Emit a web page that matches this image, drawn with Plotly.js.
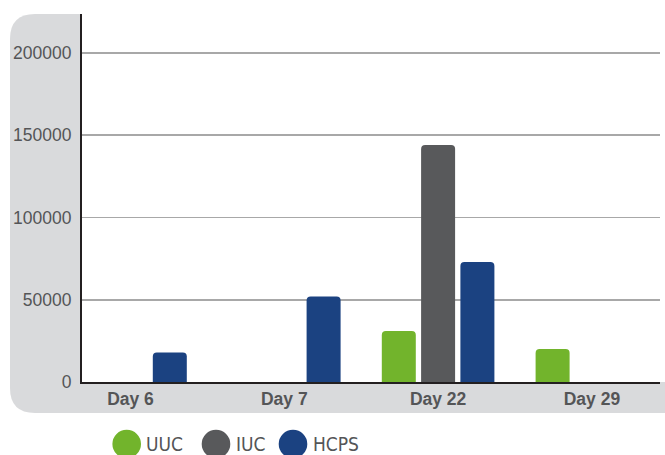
<!DOCTYPE html>
<html>
<head>
<meta charset="utf-8">
<script src="https://cdn.plot.ly/plotly-3.0.1.min.js"></script>
<style>
  html, body { margin: 0; padding: 0; background: #ffffff; }
  #chart { width: 665px; height: 455px; }
</style>
</head>
<body>
<div id="chart"></div>
<script>
// ---- data ----
const categories = ['Day 6', 'Day 7', 'Day 22', 'Day 29'];
const seriesNames = ['UUC', 'IUC', 'HCPS'];
const uucValues  = [null, null, 31000, 20000];
const iucValues  = [null, null, 144000, null];
const hcpsValues = [18000, 52000, 73000, null];
const yTickValues = [0, 50000, 100000, 150000, 200000];
const yTickLabels = ['0', '50000', '100000', '150000', '200000'];

// ---- styling ----
const seriesColors = ['#72b42c', '#58595b', '#1b4281'];
const textColor = '#545557';
const W = 665, H = 455;
const M = { l: 82, r: 5, t: 14, b: 73 };
const PW = W - M.l - M.r, PH = H - M.t - M.b;
const px2x = p => (p - M.l) / PW;
const py2y = p => (H - M.b - p) / PH;

const seriesValues = [uucValues, iucValues, hcpsValues];
const traces = seriesNames.map((name, i) => ({
  type: 'bar',
  name: name,
  x: categories,
  y: seriesValues[i],
  marker: { color: seriesColors[i], cornerradius: 4, line: { width: 0 } },
  showlegend: false,
  hoverinfo: 'x+y+name'
}));

// background panel (rounded on the left) and white plot area
const x0 = px2x(10), x1 = px2x(672), y0 = py2y(413), y1 = py2y(14);
const rx = 25 / PW, ry = 25 / PH;
const panelPath = `M ${x0 + rx},${y1} L ${x1},${y1} L ${x1},${y0} L ${x0 + rx},${y0} ` +
  `Q ${x0},${y0} ${x0},${y0 + ry} L ${x0},${y1 - ry} Q ${x0},${y1} ${x0 + rx},${y1} Z`;

const shapes = [
  { type: 'path', xref: 'paper', yref: 'paper', path: panelPath,
    fillcolor: '#d9dadc', line: { width: 0 }, layer: 'below' },
  { type: 'rect', xref: 'paper', yref: 'paper', x0: 0, x1: px2x(672), y0: 0, y1: 1.05,
    fillcolor: '#ffffff', line: { width: 0 }, layer: 'below' }
];

// custom legend (large circles + narrow text)
const legendCircleX = [126.7, 216, 293];
const legendTextX = [143.5, 233.5, 310.5];
const legendY = 444;
const legendR = 14.3;
const annotations = [];
seriesNames.forEach((name, i) => {
  shapes.push({
    type: 'circle', xref: 'paper', yref: 'paper',
    xsizemode: 'pixel', ysizemode: 'pixel',
    xanchor: px2x(legendCircleX[i]), yanchor: py2y(legendY),
    x0: -legendR, x1: legendR, y0: -legendR, y1: legendR,
    fillcolor: seriesColors[i], line: { width: 0 }
  });
  annotations.push({
    xref: 'paper', yref: 'paper', x: px2x(legendTextX[i]), y: py2y(legendY),
    xanchor: 'left', yanchor: 'middle', showarrow: false, text: name,
    font: { family: '"Liberation Sans Narrow", "Arial Narrow", "DejaVu Sans Condensed", sans-serif', size: 19, color: textColor }
  });
});

const catWidthPx = 153.8;
const firstCenterPx = 130.5;
const xr0 = -(firstCenterPx - M.l) / catWidthPx;
const xr1 = xr0 + PW / catWidthPx;

const layout = {
  width: W, height: H,
  margin: M,
  paper_bgcolor: '#ffffff',
  plot_bgcolor: '#ffffff',
  showlegend: false,
  barmode: 'group',
  bargap: 0.2334,
  bargroupgap: 0.135,
  font: { family: '"Liberation Sans", Arial, sans-serif', color: textColor },
  xaxis: {
    type: 'category',
    range: [xr0, xr1],
    showgrid: false,
    zeroline: false,
    showline: true, linecolor: '#231f20', linewidth: 2,
    ticks: '',
    tickfont: { family: '"Liberation Sans", Arial, sans-serif', size: 17.5, color: textColor, weight: 'bold' },
    fixedrange: true
  },
  yaxis: {
    range: [0, 223700],
    tickvals: yTickValues,
    ticktext: yTickLabels,
    showgrid: true, gridcolor: '#a8a8a8', gridwidth: 1.5,
    zeroline: false,
    showline: true, linecolor: '#231f20', linewidth: 2,
    ticks: '',
    ticklabelstandoff: 5,
    tickfont: { family: '"Liberation Sans", Arial, sans-serif', size: 17.5, color: textColor },
    fixedrange: true
  },
  shapes: shapes,
  annotations: annotations
};

Plotly.newPlot('chart', traces, layout, { displayModeBar: false, staticPlot: true });
</script>
</body>
</html>
